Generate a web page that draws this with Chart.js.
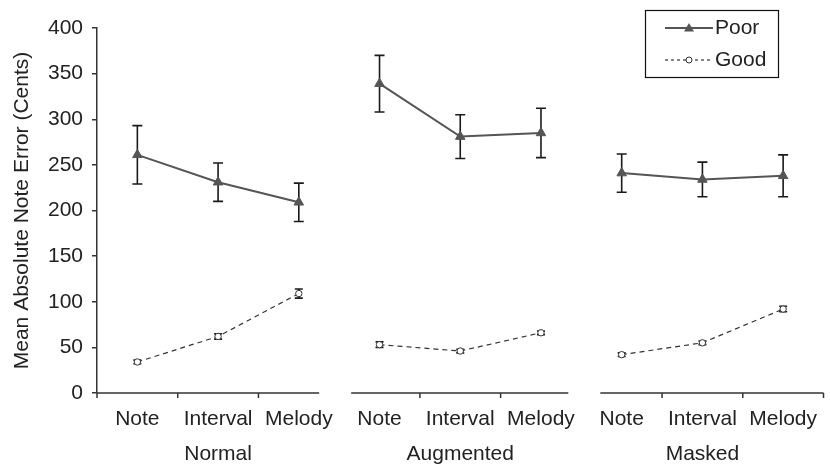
<!DOCTYPE html>
<html>
<head>
<meta charset="utf-8">
<script src="https://cdn.jsdelivr.net/npm/chart.js@4.4.1/dist/chart.umd.min.js"></script>
<style>
  html, body { margin: 0; padding: 0; background: #fff; }
  #wrap { width: 830px; height: 466px; position: relative; }
</style>
</head>
<body>
<div id="wrap"><canvas id="errChart"></canvas></div>
<script>
// task types within each listening condition
const tasks = ['Note', 'Interval', 'Melody'];
const conditions = ['Normal', 'Augmented', 'Masked'];

// mean absolute note error (cents), 3 tasks x 3 conditions
const poorMean = [261, 231, 209, 339, 281, 285, 241, 234, 238];
const poorErr = [32, 21, 21, 31, 24, 27, 21, 19, 23];
const goodMean = [34, 62, 109, 53, 46, 66, 42, 55, 92];
const goodErr = [2, 3, 5, 3, 2, 2, 2, 2, 3];

const yMin = 0, yMax = 400, yStep = 50;

const FONT = "'Liberation Sans', Arial, sans-serif";
const TEXT = '#222';
const AXIS = '#333';
const POOR = '#555';
const GOOD = '#333';

const labels = conditions.flatMap(c => tasks.map((t, j) => [t, j === 1 ? c : '']));

// hide the joins between condition panels
function gapColor(color) {
    return ctx => (ctx.p0DataIndex % 3 === 2) ? 'rgba(0,0,0,0)' : color;
}

const errorBars = {
    id: 'errorBars',
    beforeDatasetsDraw(chart) {
        const ctx = chart.ctx;
        const y = chart.scales.y;
        chart.data.datasets.forEach((ds, di) => {
            const meta = chart.getDatasetMeta(di);
            ctx.save();
            ctx.strokeStyle = '#1a1a1a';
            ctx.lineWidth = 1.6;
            ds.data.forEach((v, i) => {
                const px = meta.data[i].x;
                const top = y.getPixelForValue(v + ds.err[i]);
                const bot = y.getPixelForValue(v - ds.err[i]);
                const cap = ds.capHalf;
                ctx.beginPath();
                ctx.moveTo(px, top); ctx.lineTo(px, bot);
                ctx.moveTo(px - cap, top); ctx.lineTo(px + cap, top);
                ctx.moveTo(px - cap, bot); ctx.lineTo(px + cap, bot);
                ctx.stroke();
            });
            ctx.restore();
        });
    }
};

// broken x axis: one segment per condition panel
const panelAxis = {
    id: 'panelAxis',
    afterDraw(chart) {
        const ctx = chart.ctx;
        const x = chart.scales.x;
        const yb = chart.chartArea.bottom;
        const w = x.getPixelForValue(1) - x.getPixelForValue(0);
        const trims = [[0, 20], [12, 13], [19, 0]];
        ctx.save();
        ctx.strokeStyle = AXIS;
        ctx.lineWidth = 1.5;
        for (let p = 0; p < 3; p++) {
            const left = x.getPixelForValue(p * 3) - w / 2;
            const right = x.getPixelForValue(p * 3 + 2) + w / 2;
            ctx.beginPath();
            ctx.moveTo(left + trims[p][0], yb);
            ctx.lineTo(right - trims[p][1], yb);
            ctx.stroke();
        }
        // tick marks on category boundaries, not at panel gaps
        [0, 1, 2, 4, 5, 7, 8, 9].forEach(b => {
            const bx = Math.min(x.getPixelForValue(0) - w / 2 + b * w, chart.width - 1);
            ctx.beginPath();
            ctx.moveTo(bx, yb);
            ctx.lineTo(bx, yb + 5);
            ctx.stroke();
        });
        ctx.restore();
    }
};

const sampleLegend = {
    id: 'sampleLegend',
    afterDraw(chart) {
        const ctx = chart.ctx;
        const bx = 645, by = 10, bw = 133, bh = 67;
        ctx.save();
        ctx.strokeStyle = '#111';
        ctx.lineWidth = 1.2;
        ctx.strokeRect(bx + 0.5, by + 0.5, bw, bh);
        const rows = [
            { y: 28, color: POOR, dash: [], width: 2, label: 'Poor', tri: true },
            { y: 60, color: GOOD, dash: [3, 3], width: 1.2, label: 'Good', tri: false }
        ];
        rows.forEach(r => {
            ctx.strokeStyle = r.color;
            ctx.lineWidth = r.width;
            ctx.setLineDash(r.dash);
            ctx.beginPath();
            ctx.moveTo(665, r.y); ctx.lineTo(713, r.y);
            ctx.stroke();
            ctx.setLineDash([]);
            if (r.tri) {
                ctx.fillStyle = POOR;
                ctx.beginPath();
                ctx.moveTo(689, r.y - 5); ctx.lineTo(694, r.y + 3.5); ctx.lineTo(684, r.y + 3.5);
                ctx.closePath();
                ctx.fill();
            } else {
                ctx.fillStyle = '#fff';
                ctx.lineWidth = 1;
                ctx.beginPath();
                ctx.arc(689, r.y, 3, 0, Math.PI * 2);
                ctx.fill();
                ctx.stroke();
            }
            ctx.fillStyle = TEXT;
            ctx.font = '21px ' + FONT;
            ctx.textBaseline = 'middle';
            ctx.textAlign = 'left';
            ctx.fillText(r.label, 715, r.y);
        });
        ctx.restore();
    }
};

new Chart(document.getElementById('errChart'), {
    type: 'line',
    data: {
        labels: labels,
        datasets: [{
            label: 'Poor',
            data: poorMean,
            err: poorErr,
            capHalf: 5,
            borderColor: POOR,
            borderWidth: 2,
            pointStyle: 'triangle',
            pointRadius: 5.5,
            pointBackgroundColor: POOR,
            pointBorderColor: POOR,
            pointBorderWidth: 1,
            segment: { borderColor: gapColor(POOR) },
            fill: false
        }, {
            label: 'Good',
            data: goodMean,
            err: goodErr,
            capHalf: 4,
            borderColor: GOOD,
            borderWidth: 1.2,
            borderDash: [5, 4],
            pointStyle: 'circle',
            pointRadius: 3.2,
            pointBackgroundColor: '#fff',
            pointBorderColor: GOOD,
            pointBorderWidth: 1,
            segment: { borderColor: gapColor(GOOD) },
            fill: false
        }]
    },
    options: {
        responsive: true,
        maintainAspectRatio: false,
        animation: false,
        layout: { padding: { top: 28, right: 1, left: 0, bottom: 0 } },
        plugins: {
            legend: { display: false },
            tooltip: { enabled: false }
        },
        scales: {
            x: {
                type: 'category',
                offset: true,
                grid: { display: false },
                border: { display: false },
                afterFit: s => { s.height = 73; },
                ticks: {
                    color: TEXT,
                    padding: 1,
                    maxRotation: 0,
                    autoSkip: false,
                    font: { family: FONT, size: 21, lineHeight: 1.65 }
                }
            },
            y: {
                min: yMin,
                max: yMax,
                afterFit: s => { s.width = 97; },
                ticks: {
                    stepSize: yStep,
                    color: TEXT,
                    padding: 9,
                    font: { family: FONT, size: 21 }
                },
                grid: { drawOnChartArea: false, tickLength: 5, color: AXIS, lineWidth: 1.5 },
                border: { color: AXIS, width: 1.5 },
                title: {
                    display: true,
                    text: 'Mean Absolute Note Error (Cents)',
                    color: TEXT,
                    padding: { top: 10, bottom: 0 },
                    font: { family: FONT, size: 21 }
                }
            }
        }
    },
    plugins: [errorBars, panelAxis, sampleLegend]
});
</script>
</body>
</html>
